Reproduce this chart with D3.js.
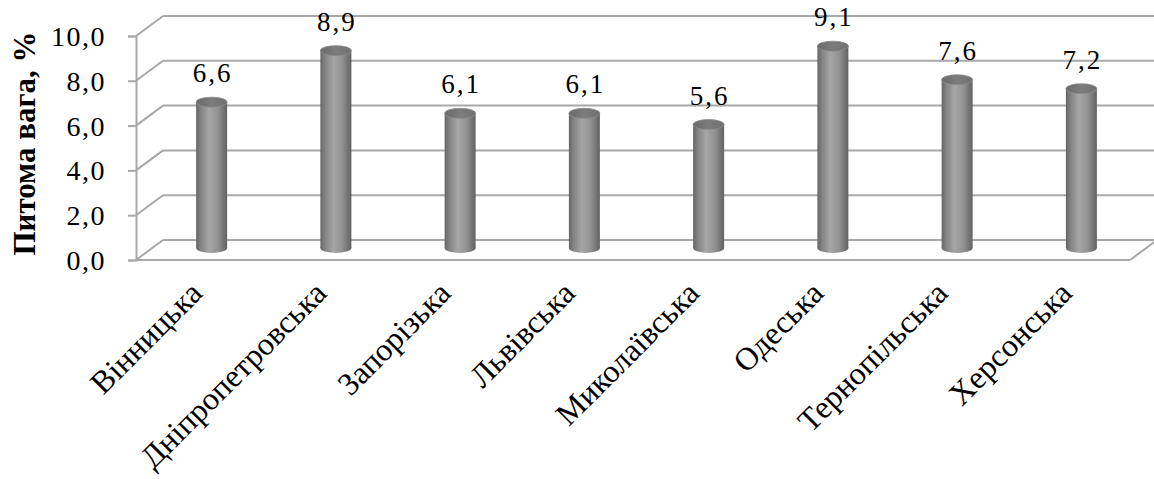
<!DOCTYPE html>
<html>
<head>
<meta charset="utf-8">
<script src="https://cdn.jsdelivr.net/npm/d3@7"></script>
<style>
  html, body { margin: 0; padding: 0; background: #fff; }
  svg { display: block; }
  svg text { font-family: "Liberation Serif", "Times New Roman", Times, serif !important; fill: #000; }
</style>
</head>
<body>
<svg id="chart" width="1154" height="479"></svg>
<script>
// Regions and their share, %
const regions = ["Вінницька", "Дніпропетровська", "Запорізька", "Львівська",
                 "Миколаївська", "Одеська", "Тернопільська", "Херсонська"];
const shares = [6.6, 8.9, 6.1, 6.1, 5.6, 9.1, 7.6, 7.2];
const yTicks = [0, 2, 4, 6, 8, 10];
const yTitle = "Питома вага, %";

const fmt = v => d3.format(".1f")(v).replace(".", ",");
const serif = "Liberation Serif";

const svg = d3.select("#chart");
const W = 1154;

// front plane of the 3D box
const x0 = 136, x1 = 1130;
const yBase = 260, yTop = 36;
// depth offset of the back wall
const depthX = 27, depthY = -20;

const x = d3.scaleBand().domain(regions).range([x0, x1]).paddingInner(0).paddingOuter(0);
const y = d3.scaleLinear().domain([0, 10]).range([yBase, yTop]);

const gridColor = "#a8a8a8";

// gradients for cylinder sides and caps
const defs = svg.append("defs");
const grad = defs.append("linearGradient").attr("id", "cyl").attr("x1", "0").attr("x2", "1").attr("y1", "0").attr("y2", "0");
[[0, "#666666"], [0.15, "#838383"], [0.42, "#a6a6a6"], [0.7, "#929292"], [1, "#626262"]]
  .forEach(([o, c]) => grad.append("stop").attr("offset", o).attr("stop-color", c));
const capGrad = defs.append("linearGradient").attr("id", "cap").attr("x1", "0").attr("x2", "1").attr("y1", "0").attr("y2", "0");
[[0, "#6a6a6a"], [0.5, "#7c7c7c"], [1, "#707070"]]
  .forEach(([o, c]) => capGrad.append("stop").attr("offset", o).attr("stop-color", c));

const grid = svg.append("g").attr("fill", "none").attr("stroke", gridColor).attr("stroke-width", 2);

// back wall gridlines + side-wall diagonals
yTicks.forEach(t => {
  const yf = y(t);
  grid.append("line").attr("x1", x0 + depthX).attr("x2", W + 10).attr("y1", yf + depthY).attr("y2", yf + depthY);
  grid.append("line").attr("x1", x0).attr("x2", x0 + depthX).attr("y1", yf).attr("y2", yf + depthY);
});
// floor front edge and right diagonal
grid.append("line").attr("x1", x0).attr("x2", x1).attr("y1", yBase).attr("y2", yBase);
grid.append("line").attr("x1", x1).attr("x2", x1 + depthX).attr("y1", yBase).attr("y2", yBase + depthY);

// value axis
const axis = d3.axisLeft(y).tickValues(yTicks).tickSize(8).tickFormat(fmt);
const ag = svg.append("g").attr("transform", `translate(${x0},0)`).call(axis)
  .attr("font-family", serif);
ag.select(".domain").attr("stroke", gridColor).attr("stroke-width", 2);
ag.selectAll(".tick line").attr("stroke", gridColor).attr("stroke-width", 2);
ag.selectAll(".tick text")
  .attr("x", -30).attr("dy", "0.34em")
  .attr("font-family", serif)
  .style("font-size", "28px").style("letter-spacing", "1.5px");

// axis title
svg.append("text")
  .attr("transform", `translate(35,${(30 + 257) / 2}) rotate(-90)`)
  .attr("text-anchor", "middle")
  .attr("font-family", serif)
  .style("font-size", "31px").style("font-weight", "bold")
  .text(yTitle);

// cylinders at mid depth
const midX = depthX / 2, midY = depthY / 2;
const rx = 15.5, ry = 5;
const bars = svg.append("g").selectAll("g").data(regions).join("g");
bars.each(function (r, i) {
  const g = d3.select(this);
  const cx = x(r) + x.bandwidth() / 2 + midX;
  const yb = y(0) + midY - 2;
  const yt = y(shares[i]) + midY;
  g.append("ellipse").attr("cx", cx).attr("cy", yb).attr("rx", rx).attr("ry", ry).attr("fill", "url(#cyl)");
  g.append("rect").attr("x", cx - rx).attr("y", yt).attr("width", rx * 2).attr("height", yb - yt).attr("fill", "url(#cyl)");
  g.append("ellipse").attr("cx", cx).attr("cy", yt).attr("rx", rx).attr("ry", ry)
    .attr("fill", "url(#cap)").attr("stroke", "#8a8a8a").attr("stroke-width", 0.8);
  g.append("text").attr("x", cx + 1).attr("y", yt - 20)
    .attr("text-anchor", "middle")
    .attr("font-family", serif)
    .style("font-size", "27px").style("letter-spacing", "2px")
    .text(fmt(shares[i]));
});

// category labels
svg.append("g").selectAll("text").data(regions).join("text")
  .attr("transform", r => `translate(${x(r) + x.bandwidth() / 2 + 6},${295}) rotate(-45)`)
  .attr("text-anchor", "end")
  .attr("font-family", serif)
  .style("font-size", "32px")
  .text(r => r);
</script>
</body>
</html>
